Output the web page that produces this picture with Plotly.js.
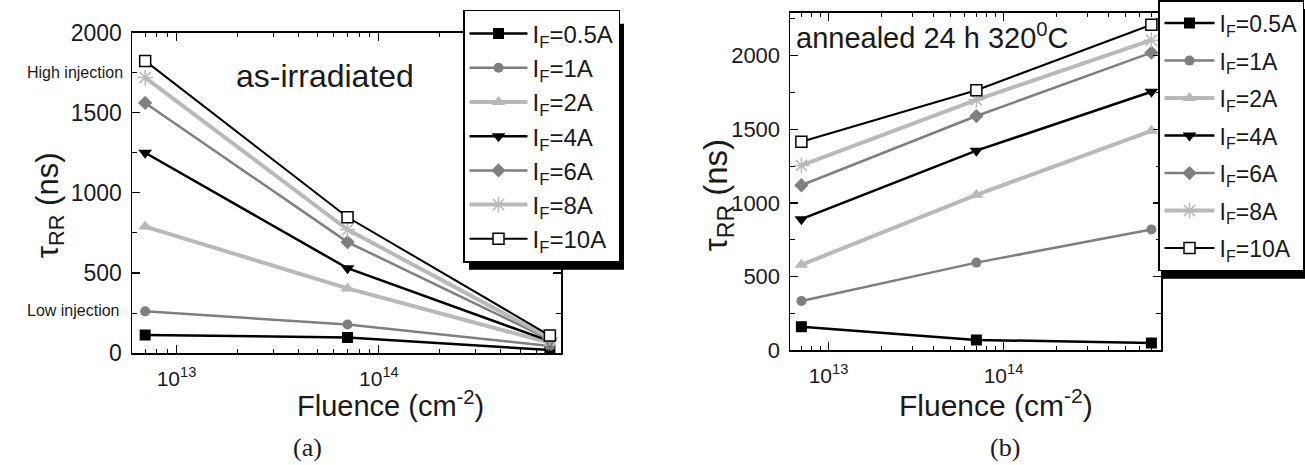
<!DOCTYPE html>
<html>
<head>
<meta charset="utf-8">
<script src="https://cdn.plot.ly/plotly-3.0.1.min.js"></script>
<style>html,body{margin:0;padding:0;background:#fff;}#chart{width:1305px;height:465px;}</style>
</head>
<body>
<div id="chart"></div>
<script>
// ---- data ----
const fluence = [7e12, 7e13, 7e14];
const seriesNames = ['I<sub>F</sub>=0.5A', 'I<sub>F</sub>=1A', 'I<sub>F</sub>=2A', 'I<sub>F</sub>=4A', 'I<sub>F</sub>=6A', 'I<sub>F</sub>=8A', 'I<sub>F</sub>=10A'];
// (a) as-irradiated, tau_RR (ns)
const irr_05A = [114, 98, 20];
const irr_1A = [261, 179, 45];
const irr_2A = [790, 404, 65];
const irr_4A = [1250, 530, 75];
const irr_6A = [1561, 693, 85];
const irr_8A = [1719, 771, 95];
const irr_10A = [1823, 848, 110];
// (b) annealed 24 h 320 C, tau_RR (ns)
const ann_05A = [160, 70, 50];
const ann_1A = [335, 595, 820];
const ann_2A = [580, 1055, 1490];
const ann_4A = [890, 1355, 1755];
const ann_6A = [1120, 1590, 2020];
const ann_8A = [1255, 1700, 2105];
const ann_10A = [1415, 1765, 2210];
const yTickVals = [0, 500, 1000, 1500, 2000];
const xTickVals = [1e13, 1e14];
const xTickText = ['10<sup>13</sup>', '10<sup>14</sup>'];

// ---- styles ----
const W = 1305, H = 465;
const px = x => x / W;
const py = y => 1 - y / H;
const BLACK = '#000000', GRAY = '#7f7f7f', LIGHT = '#b9b9b9';
const styles = [
  {color: BLACK, width: 2.5, marker: {symbol: 'square', size: 11, color: BLACK}},
  {color: GRAY, width: 2.5, marker: {symbol: 'circle', size: 10, color: GRAY}},
  {color: LIGHT, width: 4, marker: {symbol: 'triangle-up', size: 12, color: LIGHT}},
  {color: BLACK, width: 2.5, marker: {symbol: 'triangle-down', size: 12, color: BLACK}},
  {color: GRAY, width: 2.5, marker: {symbol: 'diamond', size: 11, color: GRAY}},
  {color: LIGHT, width: 4, marker: {symbol: 'asterisk-open', size: 13, color: LIGHT, line: {color: LIGHT, width: 1.5}}},
  {color: BLACK, width: 2, marker: {symbol: 'square', size: 11, color: '#ffffff', line: {color: BLACK, width: 1.5}}}
];
const irr = [irr_05A, irr_1A, irr_2A, irr_4A, irr_6A, irr_8A, irr_10A];
const ann = [ann_05A, ann_1A, ann_2A, ann_4A, ann_6A, ann_8A, ann_10A];

const traces = [];
irr.forEach((ys, i) => traces.push({
  x: fluence, y: ys, xaxis: 'x', yaxis: 'y', name: seriesNames[i], legend: 'legend', legendgroup: 'a' + i,
  mode: 'lines+markers', line: {color: styles[i].color, width: styles[i].width}, marker: styles[i].marker
}));
ann.forEach((ys, i) => traces.push({
  x: fluence, y: ys, xaxis: 'x2', yaxis: 'y2', name: seriesNames[i], legend: 'legend2', legendgroup: 'b' + i,
  mode: 'lines+markers', line: {color: styles[i].color, width: styles[i].width}, marker: styles[i].marker
}));

const minorX = [];
[1e12, 1e13, 1e14].forEach(d => { for (let k = 2; k <= 9; k++) minorX.push(k * d); });

const FONT = 'Arial, "Liberation Sans", sans-serif';
const TXT = '#1a1a1a';
function xax(domain, size) {
  return {domain: domain, type: 'log', range: [12.78, 14.9], showline: true, linecolor: BLACK, linewidth: 1.5,
    mirror: 'ticks', ticks: 'inside', ticklen: 8, tickwidth: 1.2, tickcolor: BLACK,
    tickmode: 'array', tickvals: xTickVals, ticktext: xTickText, showgrid: false, zeroline: false,
    tickfont: {family: FONT, size: size, color: TXT}, ticklabelstandoff: 6,
    minor: {tickmode: 'array', tickvals: minorX, ticks: 'inside', ticklen: 4, tickwidth: 1, tickcolor: BLACK, showgrid: false}};
}
function yax(domain, range, size, anchor) {
  return {domain: domain, range: range, anchor: anchor, showline: true, linecolor: BLACK, linewidth: 1.5,
    mirror: 'ticks', ticks: 'inside', ticklen: 8, tickwidth: 1.2, tickcolor: BLACK,
    tickmode: 'array', tickvals: yTickVals, showgrid: false, zeroline: false,
    tickfont: {family: FONT, size: size, color: TXT}, ticklabelstandoff: 4,
    minor: {dtick: 250, ticks: 'inside', ticklen: 5, tickwidth: 1, tickcolor: BLACK, showgrid: false}};
}

const layout = {
  width: W, height: H, margin: {l: 0, r: 0, t: 0, b: 0}, paper_bgcolor: '#fff', plot_bgcolor: '#fff',
  font: {family: FONT, color: TXT},
  xaxis: Object.assign(xax([px(132), px(561)], 21), {anchor: 'y'}),
  yaxis: yax([py(351), py(24)], [0, 2000], 23, 'x'),
  xaxis2: Object.assign(xax([px(790), px(1161)], 21), {anchor: 'y2'}),
  yaxis2: yax([py(348), py(4)], [0, 2290], 22, 'x2'),
  legend: {x: px(463), y: py(1), xanchor: 'left', yanchor: 'top', bgcolor: '#fff', bordercolor: BLACK, borderwidth: 1.5,
    font: {family: FONT, size: 24, color: TXT}, itemwidth: 58, tracegroupgap: 0, traceorder: 'grouped', maxheight: 440},
  legend2: {x: px(1158), y: py(-9), xanchor: 'left', yanchor: 'top', bgcolor: '#fff', bordercolor: BLACK, borderwidth: 1.5,
    font: {family: FONT, size: 23, color: TXT}, itemwidth: 50, tracegroupgap: 4.6, traceorder: 'grouped', maxheight: 440},
  shapes: [
    {type: 'rect', xref: 'paper', yref: 'paper', x0: px(469), x1: px(624), y0: py(266), y1: py(15), fillcolor: BLACK, line: {width: 0}, layer: 'above'},
    {type: 'rect', xref: 'paper', yref: 'paper', x0: px(1163), x1: px(1305), y0: py(275), y1: py(0), fillcolor: BLACK, line: {width: 0}, layer: 'above'}
  ],
  annotations: [
    {text: 'as-irradiated', x: px(325), y: py(68), xref: 'paper', yref: 'paper', showarrow: false, xanchor: 'center', yanchor: 'middle', font: {size: 32, family: FONT, color: TXT}},
    {text: 'annealed 24 h 320<sup>0</sup>C', x: px(794), y: py(28), xref: 'paper', yref: 'paper', showarrow: false, xanchor: 'left', yanchor: 'middle', font: {size: 29, family: FONT, color: TXT}},
    {text: 'High injection', x: px(125), y: py(65), xref: 'paper', yref: 'paper', showarrow: false, xanchor: 'right', yanchor: 'middle', font: {size: 16, family: FONT, color: TXT}},
    {text: 'Low injection', x: px(122), y: py(307), xref: 'paper', yref: 'paper', showarrow: false, xanchor: 'right', yanchor: 'middle', font: {size: 16, family: FONT, color: TXT}},
    {text: 'τ<sub>RR</sub> (ns)', x: px(50), y: py(200), xref: 'paper', yref: 'paper', showarrow: false, textangle: -90, xanchor: 'center', yanchor: 'middle', font: {size: 31, family: FONT, color: TXT}},
    {text: 'τ<sub>RR</sub> (ns)', x: px(718), y: py(190), xref: 'paper', yref: 'paper', showarrow: false, textangle: -90, xanchor: 'center', yanchor: 'middle', font: {size: 33, family: FONT, color: TXT}},
    {text: 'Fluence (cm<sup>-2</sup>)', x: px(390), y: py(403), xref: 'paper', yref: 'paper', showarrow: false, xanchor: 'center', yanchor: 'middle', font: {size: 29, family: FONT, color: TXT}},
    {text: 'Fluence (cm<sup>-2</sup>)', x: px(996), y: py(402), xref: 'paper', yref: 'paper', showarrow: false, xanchor: 'center', yanchor: 'middle', font: {size: 30, family: FONT, color: TXT}},
    {text: '(a)', x: px(307), y: py(447), xref: 'paper', yref: 'paper', showarrow: false, xanchor: 'center', yanchor: 'middle', font: {size: 26, family: '"Times New Roman", "Liberation Serif", serif', color: TXT}},
    {text: '(b)', x: px(1005), y: py(447), xref: 'paper', yref: 'paper', showarrow: false, xanchor: 'center', yanchor: 'middle', font: {size: 26, family: '"Times New Roman", "Liberation Serif", serif', color: TXT}}
  ]
};
Plotly.newPlot('chart', traces, layout, {displayModeBar: false, staticPlot: true});
</script>
</body>
</html>
